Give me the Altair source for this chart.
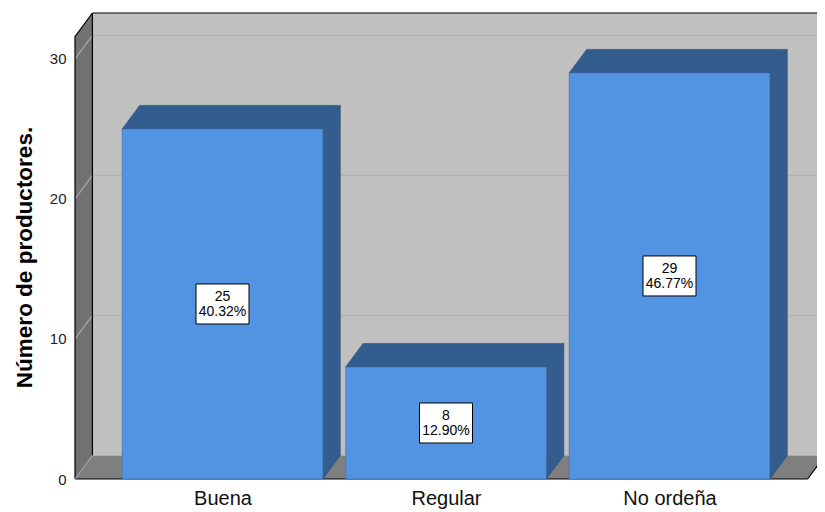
import altair as alt
import pandas as pd

# ---- data ----
categories = ["Buena", "Regular", "No ordeña"]
counts = [25, 8, 29]
percents = ["40.32%", "12.90%", "46.77%"]
y_ticks = [0, 10, 20, 30]
y_title = "Número de productores."

# ---- geometry / style constants ----
HW = 0.449      # bar half width (category units)
DX = 0.078      # 3D depth along x (category units)
DV = 1.68       # 3D depth along y (value units)
X0 = -0.66
PLOT_W = 742
XMAX = X0 + PLOT_W / 223.5
WALL = 31.6
YMAX = WALL + DV
FLOOR_R = 2.618

FRONT = "#5294E2"
DARK = "#335C8F"
WALL_C = "#C0C0C0"
LWALL_C = "#717171"
FLOOR_C = "#7F7F7F"
FONT = "Liberation Sans"

xs = alt.Scale(domain=[X0, XMAX], nice=False, zero=False)
ys = alt.Scale(domain=[0, YMAX], nice=False, zero=True)

idx = list(range(len(categories)))
label_expr = "[" + ",".join("'" + c + "'" for c in categories) + "][datum.value]"

X_AX = alt.Axis(values=idx, labelExpr=label_expr, title=None, domain=False, ticks=False,
                grid=False, labelFontSize=20, labelFont=FONT, labelColor="#111",
                labelPadding=9, labelBaseline="top")
Y_AX = alt.Axis(values=y_ticks, title=y_title, domain=False, ticks=False, grid=False,
                labelFontSize=15, labelFont=FONT, labelColor="#222", labelPadding=9,
                titleFont=FONT, titleFontSize=22.5, titleFontWeight="bold", titleColor="#000",
                titleAngle=270, titleX=-51, titleY=244, titleAlign="center",
                titleBaseline="middle")


def X(f):
    return alt.X(f, scale=xs, axis=X_AX)


def Y(f):
    return alt.Y(f, scale=ys, axis=Y_AX)


# back wall
back = pd.DataFrame([{"x": X0 + DX, "x2": XMAX, "y": DV, "y2": YMAX}])
back_layer = alt.Chart(back).mark_rect(color=WALL_C).encode(
    x=X("x:Q"), x2="x2:Q", y=Y("y:Q"), y2="y2:Q")

# gridlines on back wall and left wall
grid_back = pd.DataFrame([{"x": X0 + DX, "x2": XMAX, "y": t + DV, "y2": t + DV} for t in y_ticks if t > 0])
grid_back_layer = alt.Chart(grid_back).mark_rule(color="#B2B2B2", strokeWidth=1.5).encode(
    x=X("x:Q"), x2="x2:Q", y=Y("y:Q"), y2="y2:Q")
grid_left = pd.DataFrame([{"x": X0, "x2": X0 + DX, "y": t, "y2": t + DV} for t in y_ticks if t > 0])

# left wall
lwall = pd.DataFrame([{"x": X0, "lo": 0, "hi": WALL}, {"x": X0 + DX, "lo": DV, "hi": WALL + DV}])
lwall_layer = alt.Chart(lwall).mark_area(color=LWALL_C, orient="vertical", opacity=1).encode(
    x=X("x:Q"), y=Y("lo:Q"), y2="hi:Q")
grid_left_layer = alt.Chart(grid_left).mark_rule(color="#A8A8A8", strokeWidth=1.2).encode(
    x=X("x:Q"), x2="x2:Q", y=Y("y:Q"), y2="y2:Q")

# floor
floor = pd.DataFrame([{"y": 0, "l": X0, "r": FLOOR_R}, {"y": DV, "l": X0 + DX, "r": FLOOR_R + DX}])
floor_layer = alt.Chart(floor).mark_area(color=FLOOR_C, orient="horizontal", opacity=1,
                                         clip=True).encode(
    y=Y("y:Q"), x=X("l:Q"), x2="r:Q")

# edges
edges = pd.DataFrame([
    {"x": X0, "y": 0, "x2": X0, "y2": WALL, "c": "#000"},
    {"x": X0, "y": WALL, "x2": X0 + DX, "y2": WALL + DV, "c": "#000"},
    {"x": X0 + DX, "y": DV, "x2": X0 + DX, "y2": YMAX, "c": "#000"},
    {"x": X0 + DX, "y": YMAX, "x2": XMAX, "y2": YMAX, "c": "#000"},
    {"x": X0, "y": 0, "x2": FLOOR_R, "y2": 0, "c": "#000"},
    {"x": FLOOR_R, "y": 0, "x2": FLOOR_R + DX, "y2": DV, "c": "#000"},
    {"x": X0, "y": 0, "x2": X0 + DX, "y2": DV, "c": "#A0A0A0"},
])
edge_layer = alt.Chart(edges).mark_rule(strokeWidth=1.2).encode(
    x=X("x:Q"), x2="x2:Q", y=Y("y:Q"), y2="y2:Q",
    color=alt.Color("c:N", scale=None))

# bars
bars = pd.DataFrame({"cat": categories, "i": idx, "v": counts, "pct": percents})
bars["xl"] = bars["i"] - HW
bars["xr"] = bars["i"] + HW
bars["zero"] = 0
bars["mid"] = bars["v"] / 2
bars["label"] = bars["v"].astype(str) + "\n" + bars["pct"]

side_rows, top_rows = [], []
for c, i, v in zip(categories, idx, counts):
    side_rows.append({"cat": c, "x": i + HW, "lo": 0, "hi": v})
    side_rows.append({"cat": c, "x": i + HW + DX, "lo": DV, "hi": v + DV})
    top_rows.append({"cat": c, "y": v, "l": i - HW, "r": i + HW})
    top_rows.append({"cat": c, "y": v + DV, "l": i - HW + DX, "r": i + HW + DX})
side = pd.DataFrame(side_rows)
top = pd.DataFrame(top_rows)

side_layer = alt.Chart(side).mark_area(color=DARK, orient="vertical", opacity=1,
                                       stroke="#2A4C78", strokeWidth=0.6).encode(
    x=X("x:Q"), y=Y("lo:Q"), y2="hi:Q", detail="cat:N")
top_layer = alt.Chart(top).mark_area(color=DARK, orient="horizontal", opacity=1,
                                     stroke="#2A4C78", strokeWidth=0.6).encode(
    y=Y("y:Q"), x=X("l:Q"), x2="r:Q", detail="cat:N")
front_layer = alt.Chart(bars).mark_rect(color=FRONT, stroke="#3E6FA8", strokeWidth=0.6).encode(
    x=X("xl:Q"), x2="xr:Q", y=Y("zero:Q"), y2="v:Q")

box_layer = alt.Chart(bars).mark_rect(width=53, height=40, fill="white", stroke="#000",
                                      strokeWidth=1).encode(
    x=X("i:Q"), y=Y("mid:Q"))
text_layer = alt.Chart(bars).mark_text(fontSize=14, font=FONT, color="#000", lineBreak="\n",
                                       lineHeight=15, baseline="middle", align="center",
                                       dy=-7).encode(
    x=X("i:Q"), y=Y("mid:Q"), text="label:N")

chart = alt.layer(
    back_layer, grid_back_layer, lwall_layer, grid_left_layer, floor_layer, edge_layer,
    side_layer, top_layer, front_layer, box_layer, text_layer,
).properties(
    width=PLOT_W, height=466,
    autosize=alt.AutoSizeParams(type="none"),
    padding={"left": 67, "top": 5, "right": 0, "bottom": 33},
    background="white",
).configure_view(stroke=None)

chart.save("out.html", embed_options={"renderer": "svg", "actions": False})
